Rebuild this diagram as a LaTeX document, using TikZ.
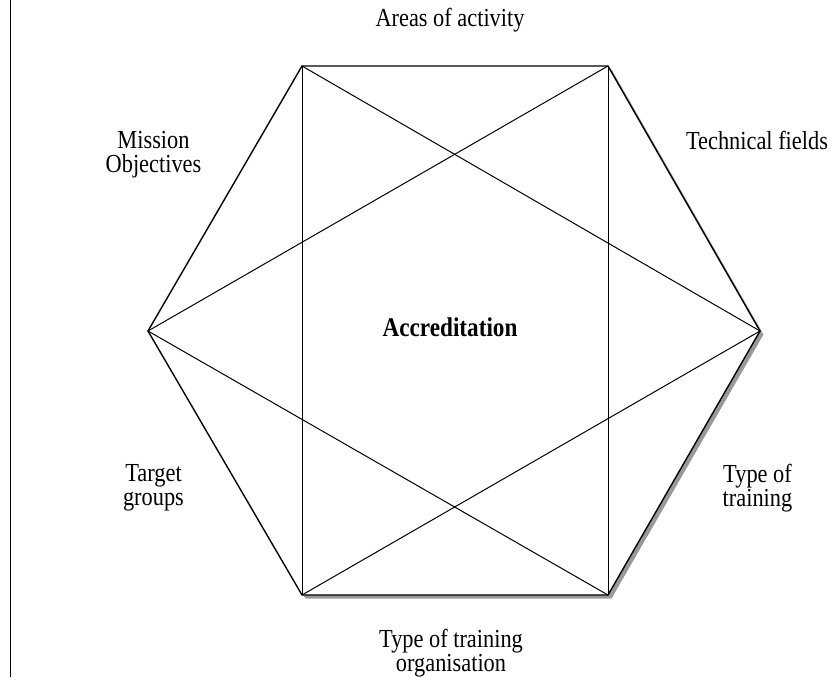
\documentclass[tikz,border=0pt]{standalone}
\usepackage{fontspec}
\newfontfamily\lblfont[FakeStretch=0.86]{Liberation Serif}
\definecolor{shadowgray}{gray}{0.6}
\tikzset{
  lbl/.style={font=\lblfont\fontsize{26}{24}\selectfont, align=center, inner sep=0pt},
  edge/.style={line width=1.4pt, line join=miter},
  chord/.style={line width=1pt},
  border/.style={line width=1pt}
}
\begin{document}
\begin{tikzpicture}[x=1pt,y=-1pt]
\useasboundingbox (0,0) rectangle (834,677);
\coordinate (TL) at (302,66);
\coordinate (TR) at (608,66);
\coordinate (R) at (760,331);
\coordinate (BR) at (608,595);
\coordinate (BL) at (302,595);
\coordinate (L) at (148,331);
\coordinate (bt) at (10.5,0);
\coordinate (bb) at (10.5,677);
% left border line
\draw[border] (bt) -- (bb);
% shadow
\fill[shadowgray] ([shift={(3.5,3.5)}]TL) -- ([shift={(3.5,3.5)}]TR) -- ([shift={(3.5,3.5)}]R) -- ([shift={(3.5,3.5)}]BR) -- ([shift={(3.5,3.5)}]BL) -- ([shift={(3.5,3.5)}]L) -- cycle;
% hexagon
\filldraw[edge, fill=white] (TL) -- (TR) -- (R) -- (BR) -- (BL) -- (L) -- cycle;
% inner lines
\draw[chord] (TL) -- (BL);
\draw[chord] (TR) -- (BR);
\draw[chord] (L) -- (TR);
\draw[chord] (L) -- (BR);
\draw[chord] (R) -- (TL);
\draw[chord] (R) -- (BL);
% labels
\node[lbl, anchor=base] (areas) at (450,27) {Areas of activity};
\node[lbl, anchor=base, font=\lblfont\bfseries\fontsize{27}{24}\selectfont] (acc) at (450,336) {Accreditation};
\node[lbl, anchor=base] (tech) at (757,149) {Technical fields};
\node[lbl] (mission) at (153.5,155) {Mission\\Objectives};
\node[lbl] (target) at (153.5,488) {Target\\groups};
\node[lbl] (tot) at (757.5,488) {Type of\\training};
\node[lbl] (totorg) at (451,653) {Type of training\\organisation};
\end{tikzpicture}
\end{document}
